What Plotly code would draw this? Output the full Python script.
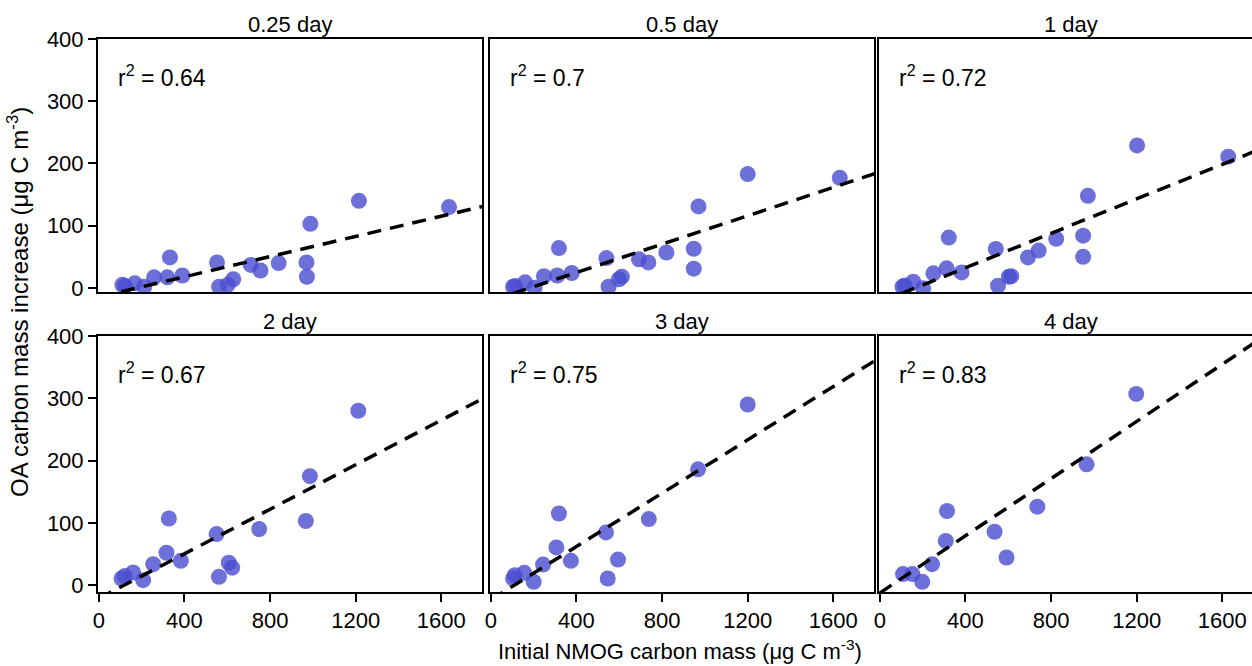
import plotly.graph_objects as go

# ---------------- data ----------------
panel_titles = ["0.25 day", "0.5 day", "1 day", "2 day", "3 day", "4 day"]
r2_values = ["0.64", "0.7", "0.72", "0.67", "0.75", "0.83"]

x_025 = [110, 122, 168, 212, 258, 320, 332, 390, 552, 562, 602, 628, 710, 755, 840, 970, 972, 988, 1215, 1636]
y_025 = [5, 3, 7.5, 2, 17, 17, 49, 20, 41, 2, 5, 14, 37, 28, 40, 41, 18, 103, 140, 130]

x_05 = [104, 114, 160, 204, 248, 310, 318, 378, 540, 550, 598, 612, 692, 736, 820, 948, 948, 970, 1200, 1630]
y_05 = [2, 3, 9, 0.5, 19, 20, 64, 24, 48, 2, 14, 18, 46, 41, 57, 63, 31, 131, 183, 177]

x_1 = [106, 116, 156, 202, 250, 312, 322, 382, 542, 552, 603, 614, 692, 742, 824, 950, 950, 972, 1202, 1628]
y_1 = [2, 4, 10, -0.5, 23.5, 31.5, 81, 25, 62.6, 3.7, 18, 19, 49, 60, 79, 84, 50, 148, 229, 211]

x_2 = [106, 121, 160, 207, 254, 316, 327, 383, 550, 561, 607, 623, 749, 967, 986, 1212]
y_2 = [10.7, 14.5, 20.3, 8, 33.7, 52, 107, 39, 82, 13.4, 36, 28, 90, 103, 175, 280]

x_3 = [104, 112, 156, 200, 244, 306, 318, 374, 538, 546, 594, 738, 968, 1200]
y_3 = [10.7, 16, 19.8, 5.3, 33, 60.5, 115, 39, 84.6, 10.7, 41, 106, 186, 290]

x_4 = [108, 152, 198, 244, 308, 314, 536, 592, 736, 966, 1198]
y_4 = [17.7, 17.7, 5.3, 33.7, 71, 119, 85.7, 44.4, 126, 194, 307]

# regression lines (slope, intercept)
fit_slope = [0.0811, 0.114, 0.1384, 0.1788, 0.214, 0.2294]
fit_intercept = [-14.5, -20.8, -23.0, -21.2, -23.5, -12.5]

x_ticks = [0, 400, 800, 1200, 1600]
y_ticks = [0, 100, 200, 300, 400]

series_x = [x_025, x_05, x_1, x_2, x_3, x_4]
series_y = [y_025, y_05, y_1, y_2, y_3, y_4]

# ---------------- layout geometry ----------------
W, H = 1252, 666
L, R, T, B = 98, 0, 39, 74
PW = W - L - R
PH = H - T - B

col_px = [(98, 482), (490, 874), (879, 1252)]
row_px = [(39, 292), (336, 592)]
x_ranges = [[-4, 1790], [-4, 1790], [-4, -4 + 373 / 0.2140]]
y_ranges = [[-6.5, 400], [-11, 400]]

FONT = "Liberation Sans, Arial, Helvetica, sans-serif"
marker_color = "rgba(72,76,208,0.80)"

fig = go.Figure()
layout = {}
annotations = []

for i in range(6):
    r, c = divmod(i, 3)
    n = i + 1
    xa = "xaxis" if n == 1 else f"xaxis{n}"
    ya = "yaxis" if n == 1 else f"yaxis{n}"
    xr = "x" if n == 1 else f"x{n}"
    yr = "y" if n == 1 else f"y{n}"

    x0, x1 = col_px[c]
    y0, y1 = row_px[r]
    xdom = [(x0 - L) / PW, (x1 - L) / PW]
    ydom = [(H - B - y1) / PH, (H - B - y0) / PH]

    fig.add_trace(go.Scatter(
        x=series_x[i], y=series_y[i], mode="markers", xaxis=xr, yaxis=yr,
        marker=dict(size=16, color=marker_color, line=dict(width=0)),
        showlegend=False, hoverinfo="x+y"))

    lx = [0, 1800]
    ly = [fit_slope[i] * v + fit_intercept[i] for v in lx]
    fig.add_trace(go.Scatter(
        x=lx, y=ly, mode="lines", xaxis=xr, yaxis=yr,
        line=dict(color="black", width=3.5, dash="14px,9px"),
        showlegend=False, hoverinfo="skip"))

    bottom = (r == 1)
    left = (c == 0)
    layout[xa] = dict(
        domain=xdom, range=x_ranges[c], anchor=yr,
        showline=True, linecolor="black", linewidth=2, mirror=True,
        showgrid=False, zeroline=False,
        tickvals=x_ticks, ticks="outside" if bottom else "",
        ticklen=8, tickwidth=1.5, tickcolor="black",
        showticklabels=bottom,
        tickfont=dict(family=FONT, size=22, color="black"),
    )
    layout[ya] = dict(
        domain=ydom, range=y_ranges[r], anchor=xr,
        showline=True, linecolor="black", linewidth=2, mirror=(c != 2),
        showgrid=False, zeroline=False,
        tickvals=y_ticks, ticks="outside" if left else "",
        ticklen=8, tickwidth=1.5, tickcolor="black",
        showticklabels=left,
        tickfont=dict(family=FONT, size=22, color="black"),
    )

    # panel title
    annotations.append(dict(
        text=panel_titles[i], xref=f"{xr} domain", yref=f"{yr} domain",
        x=0.5 if c < 2 else (0.5 * 384) / 373, y=1, xanchor="center", yanchor="bottom",
        yshift=0, showarrow=False, font=dict(family=FONT, size=22, color="black")))
    # r^2 label
    annotations.append(dict(
        text=f"r<sup>2</sup> = {r2_values[i]}", xref=xr, yref=yr,
        x=80, y=340, xanchor="left", yanchor="middle", showarrow=False,
        font=dict(family=FONT, size=23, color="black")))

annotations.append(dict(
    text="OA carbon mass increase (μg C m<sup>-3</sup>)", xref="paper", yref="paper",
    x=(18 - L) / PW, y=(H - B - 302) / PH, xanchor="center", yanchor="middle",
    textangle=-90, showarrow=False, font=dict(family=FONT, size=24, color="black")))
annotations.append(dict(
    text="Initial NMOG carbon mass (μg C m<sup>-3</sup>)", xref="paper", yref="paper",
    x=(680 - L) / PW, y=-(650 - (H - B)) / PH, xanchor="center", yanchor="middle",
    showarrow=False, font=dict(family=FONT, size=22, color="black")))

fig.update_layout(
    width=W, height=H,
    margin=dict(l=L, r=R, t=T, b=B, pad=0),
    paper_bgcolor="white", plot_bgcolor="white",
    font=dict(family=FONT, color="black"),
    annotations=annotations,
    **layout,
)

fig.write_html(
    "out.html",
    config={"displayModeBar": False},
    post_script="document.body.style.margin='0';document.body.style.overflow='hidden';",
)
